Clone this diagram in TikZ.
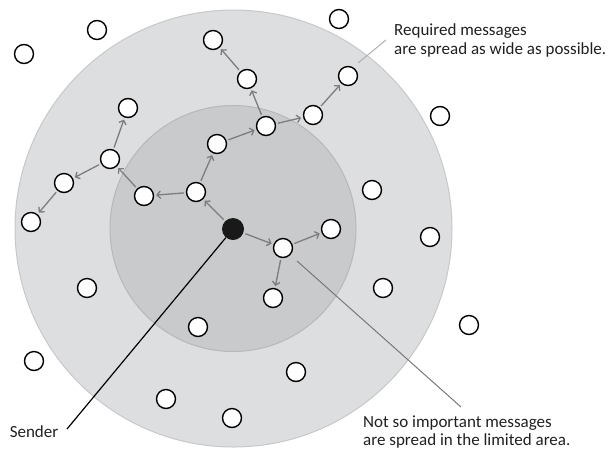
\documentclass[tikz,border=0pt]{standalone}
\usepackage{fontspec}
\setmainfont{Carlito}
\usetikzlibrary{arrows.meta}
\definecolor{outerzone}{RGB}{221,222,224}
\definecolor{outeredge}{RGB}{200,200,202}
\definecolor{innerzone}{RGB}{201,202,204}
\definecolor{inneredge}{RGB}{184,184,186}
\definecolor{hop}{RGB}{125,125,125}
\definecolor{leader}{RGB}{175,175,175}
\definecolor{leaderdark}{RGB}{120,120,120}
\definecolor{txt}{RGB}{35,31,32}
\tikzset{
  peer/.style={circle, draw=black, line width=1.4pt, fill=white, minimum size=19pt, inner sep=0pt},
  src/.style={circle, fill=black!90, minimum size=22pt, inner sep=0pt},
  hoparrow/.style={draw=hop, line width=1.3pt, -{Straight Barb[length=3.5pt,width=7.5pt]}, shorten >=2pt, shorten <=2pt},
  label/.style={font=\fontsize{17}{18.5}\selectfont, text=txt, align=left, inner sep=0pt},
}
\begin{document}
\begin{tikzpicture}[x=1pt,y=-1pt]
\useasboundingbox (0,0) rectangle (612,451);
% propagation zones
\draw[fill=outerzone, draw=outeredge, line width=1pt] (233.5,228.5) circle (218.5);
\draw[fill=innerzone, draw=inneredge, line width=1pt] (233,228.5) circle (123);

% sender
\node[src] (s) at (233,229) {};

% peers
\node[peer] (p1) at (97,30) {};
\node[peer] (p2) at (24,54) {};
\node[peer] (p3) at (213,40) {};
\node[peer] (p4) at (247,79) {};
\node[peer] (p5) at (128,108) {};
\node[peer] (p6) at (266,126) {};
\node[peer] (p7) at (217,144) {};
\node[peer] (p8) at (110,159) {};
\node[peer] (p9) at (64,183) {};
\node[peer] (p10) at (144,196) {};
\node[peer] (p11) at (196,192) {};
\node[peer] (p12) at (31,222) {};
\node[peer] (p13) at (339,19) {};
\node[peer] (p14) at (348,76) {};
\node[peer] (p15) at (313,115) {};
\node[peer] (p16) at (440,116) {};
\node[peer] (p17) at (372,190) {};
\node[peer] (p18) at (331,229) {};
\node[peer] (p19) at (283,248) {};
\node[peer] (p20) at (273,298) {};
\node[peer] (p21) at (87,288) {};
\node[peer] (p22) at (198,327) {};
\node[peer] (p23) at (34,361) {};
\node[peer] (p24) at (166,399) {};
\node[peer] (p25) at (232,418) {};
\node[peer] (p26) at (296,372) {};
\node[peer] (p27) at (430,237) {};
\node[peer] (p28) at (383,288) {};
\node[peer] (p29) at (469,325) {};

% forwarding hops
\draw[hoparrow] (s) -- (p11);
\draw[hoparrow] (p11) -- (p10);
\draw[hoparrow] (p11) -- (p7);
\draw[hoparrow] (p10) -- (p8);
\draw[hoparrow] (p8) -- (p5);
\draw[hoparrow] (p8) -- (p9);
\draw[hoparrow] (p9) -- (p12);
\draw[hoparrow] (p7) -- (p6);
\draw[hoparrow] (p6) -- (p4);
\draw[hoparrow] (p4) -- (p3);
\draw[hoparrow] (p6) -- (p15);
\draw[hoparrow] (p15) -- (p14);
\draw[hoparrow] (s) -- (p19);
\draw[hoparrow] (p19) -- (p20);
\draw[hoparrow] (p19) -- (p18);

% annotations
\node[label, anchor=north west] (req) at (394,23.5) {Required messages\\are spread as wide as possible.};
\coordinate (reqend) at (386,40);
\coordinate (reqstart) at (358,63);
\draw[leader, line width=1pt] (reqstart) -- (reqend);

\node[label, anchor=north west] (lim) at (363,415.5) {Not so important messages\\are spread in the limited area.};
\coordinate (limstart) at (297,261);
\coordinate (limend) at (461,407);
\draw[leaderdark, line width=1pt] (limstart) -- (limend);

\node[label, anchor=base east] (snd) at (58.5,437) {Sender};
\coordinate (sndend) at (67,429);
\draw[black, line width=1.2pt] (s) -- (sndend);
\end{tikzpicture}
\end{document}
